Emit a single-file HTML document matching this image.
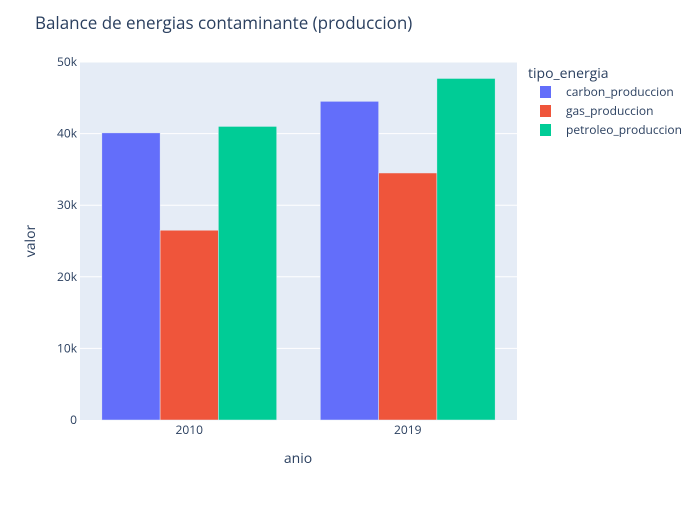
<!DOCTYPE html>
<html><head><meta charset="utf-8"><style>
body{margin:0;background:#fff;font-family:"Liberation Sans","DejaVu Sans",sans-serif}
svg text{font-family:"Open Sans","Liberation Sans",sans-serif;fill:#2a3f5f}
</style></head><body>
<svg id="chart" width="700" height="500">
<rect width="700" height="500" fill="#fff"/>
<text x="35" y="29" font-size="17">Balance de energias contaminante (produccion)</text>
<rect x="80" y="62" width="437" height="358" fill="#e5ecf6"/>
<g id="grid"></g><g id="bars"></g><g id="ticks"></g>
<text x="298" y="463" font-size="14" text-anchor="middle">anio</text>
<text x="35" y="241" font-size="14" text-anchor="middle" transform="rotate(-90 35 241)">valor</text>
<g id="legend">
<text x="528" y="78" font-size="14">tipo_energia</text>
</g>
</svg>
<script>
const categories=["2010","2019"];
const seriesNames=["carbon_produccion","gas_produccion","petroleo_produccion"];
const carbon=[40100,44500];
const gas=[26500,34500];
const petroleo=[41000,47700];
const yTicks=[0,10000,20000,30000,40000,50000];
const yTickLabels=["0","10k","20k","30k","40k","50k"];
const colors=["#636efa","#ef553b","#00cc96"];
const series=[carbon,gas,petroleo];
const NS="http://www.w3.org/2000/svg";
const X0=80,X1=517,Y0=420,Y1=62,YMAX=50000;
const y=v=>Y0-(v/YMAX)*(Y0-Y1);
const band=(X1-X0)/categories.length;
const xc=i=>X0+band*(i+0.5);
function mk(tag,attrs,parent){const e=document.createElementNS(NS,tag);for(const k in attrs)e.setAttribute(k,attrs[k]);parent.appendChild(e);return e;}
const grid=document.getElementById('grid'),bars=document.getElementById('bars'),ticks=document.getElementById('ticks'),legend=document.getElementById('legend');
yTicks.forEach((t,i)=>{
 if(t>0){const l=mk('line',{x1:X0,x2:X1,y1:y(t),y2:y(t),stroke:'#fff','stroke-width':1},grid);
 
 }
 const tx=mk('text',{x:X0-3,y:y(t)+4,'font-size':12,'text-anchor':'end'},ticks);tx.textContent=yTickLabels[i];
 
 
});
const groupW=band*0.8,barW=groupW/series.length;
categories.forEach((c,i)=>{
 series.forEach((s,j)=>{
  const bx=xc(i)-groupW/2+j*barW;
  const r=mk('rect',{x:bx,y:y(s[i]),width:barW,height:Y0-y(s[i]),fill:colors[j],stroke:'#e5ecf6','stroke-width':0.5},bars);
  
  
 });
 const tx=mk('text',{x:xc(i),y:Y0+14,'font-size':12,'text-anchor':'middle'},ticks);tx.textContent=c;
 
 
});
seriesNames.forEach((n,j)=>{
 const yy=92+j*19;
 const r=mk('rect',{x:540,y:yy-6,width:11,height:12,fill:colors[j]},legend);
 
 
 const t=mk('text',{x:566,y:yy+4,'font-size':12},legend);t.textContent=n;
 
 
});
</script>
</body></html>
